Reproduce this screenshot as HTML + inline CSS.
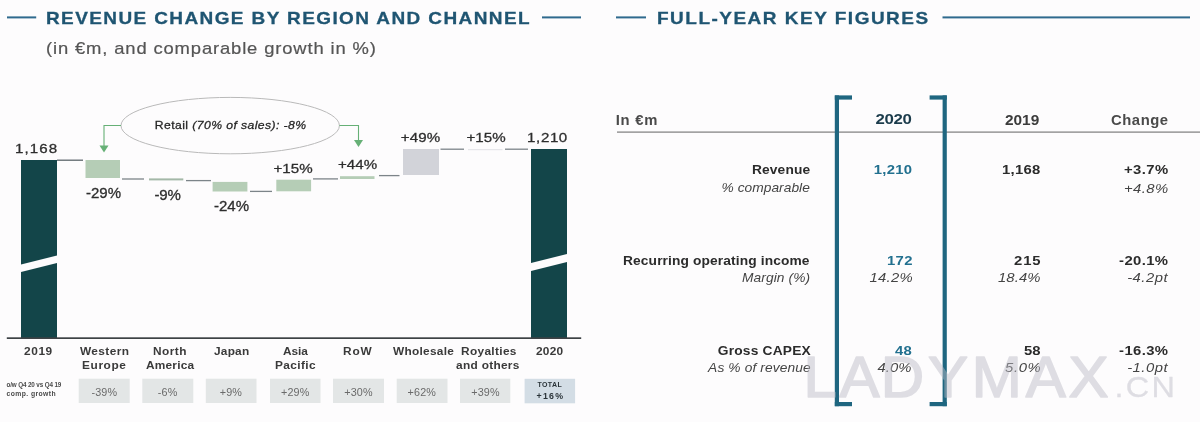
<!DOCTYPE html>
<html lang="en"><head><meta charset="utf-8"><title>Key figures</title>
<style>
html,body{margin:0;padding:0;background:#fdfcfd;}
body{width:1200px;height:422px;overflow:hidden;position:relative;font-family:"Liberation Sans", Arial, sans-serif;}
svg{position:absolute;left:0;top:0;display:block;filter:blur(0.4px);}
svg text{font-family:"Liberation Sans", Arial, sans-serif;white-space:pre;}
</style></head><body>
<svg width="1200" height="422" viewBox="0 0 1200 422">
<g id="shapes">
<!-- title rules -->
<rect x="7" y="16.4" width="29.2" height="2" fill="#2f6a8e"/>
<rect x="542" y="16.4" width="39" height="2" fill="#2f6a8e"/>
<rect x="616" y="16.4" width="30" height="2" fill="#2f6a8e"/>
<rect x="942.5" y="16.4" width="247.5" height="2" fill="#2f6a8e"/>
<!-- dark bars -->
<polygon points="21,160 57,160 57,255.5 21,264.5" fill="#134549"/>
<polygon points="21,272 57,263 57,338 21,338" fill="#134549"/>
<polygon points="531,149 567,149 567,254 531,263" fill="#134549"/>
<polygon points="531,271 567,262 567,338 531,338" fill="#134549"/>
<!-- waterfall bars -->
<rect x="85.5" y="160" width="34.5" height="18" fill="#b5cdb6"/>
<rect x="149" y="178.4" width="34.3" height="2" fill="#a4b8a8"/>
<rect x="212.6" y="181.9" width="34.8" height="9.6" fill="#b5cdb6"/>
<rect x="276.3" y="179.7" width="34.8" height="11.6" fill="#b5cdb6"/>
<rect x="340" y="176.2" width="34.5" height="2.8" fill="#b5cdb6"/>
<rect x="403" y="149" width="36" height="26" fill="#d2d3d9"/>
<rect x="468" y="149" width="34.5" height="1.2" fill="#e6e6ea"/>
<!-- connectors -->
<g stroke="#7c8489" stroke-width="1.3" fill="none">
<line x1="57" y1="160.2" x2="83" y2="160.2" stroke="#5d666b"/>
<line x1="122" y1="179" x2="144" y2="179"/>
<line x1="186" y1="180.6" x2="211" y2="180.6"/>
<line x1="250" y1="191.4" x2="272" y2="191.4"/>
<line x1="313" y1="178.9" x2="338" y2="178.9"/>
<line x1="379" y1="175.6" x2="399.5" y2="175.6"/>
<line x1="440.5" y1="149.2" x2="464" y2="149.2"/>
<line x1="505" y1="149.2" x2="528" y2="149.2"/>
</g>
<!-- axis -->
<rect x="6.8" y="337.3" width="574.4" height="1.7" fill="#3d4245"/>
<!-- ellipse + arrows -->
<ellipse cx="230.2" cy="125.6" rx="109.2" ry="28.2" fill="none" stroke="#b9b9b9" stroke-width="1"/>
<g stroke="#66b076" stroke-width="1.1" fill="none">
<polyline points="121,125.5 104,125.5 104,146"/>
<polyline points="339.4,125.5 358.5,125.5 358.5,141"/>
</g>
<polygon points="99.5,145.5 108.5,145.5 104,152.5" fill="#66b076"/>
<polygon points="354,140 363,140 358.5,147" fill="#66b076"/>
<!-- bottom boxes -->
<g fill="#e3e6e6">
<rect x="78.7" y="378.7" width="51" height="24.3"/>
<rect x="142.3" y="378.7" width="51" height="24.3"/>
<rect x="205.8" y="378.7" width="50.7" height="24.3"/>
<rect x="270" y="378.7" width="50.5" height="24.3"/>
<rect x="333" y="378.7" width="51" height="24.3"/>
<rect x="396.7" y="378.7" width="50.8" height="24.3"/>
<rect x="460" y="378.7" width="50.3" height="24.3"/>
</g>
<rect x="524.6" y="378.8" width="50.5" height="24.5" fill="#d3dde5"/>
<!-- table rule -->
<rect x="617" y="131.5" width="583" height="1.2" fill="#7d7d7d"/>
<!-- brackets -->
<g fill="#1f6680">
<rect x="834.8" y="95.4" width="4.2" height="310.8"/>
<rect x="834.8" y="95.4" width="17.2" height="4.2"/>
<rect x="834.8" y="402" width="17.2" height="4.2"/>
<rect x="942.6" y="95.4" width="4.2" height="310.8"/>
<rect x="929.6" y="95.4" width="17.2" height="4.2"/>
<rect x="929.6" y="402" width="17.2" height="4.2"/>
</g>
</g>
<g id="texts">
<text id="t1" transform="translate(46.00 24.00) scale(1.150 1)" font-size="16.50" font-weight="700" stroke="#1f5572" stroke-width="0.30" letter-spacing="1.231" fill="#1f5572">REVENUE CHANGE BY REGION AND CHANNEL</text>
<text id="t2" transform="translate(46.00 54.00) scale(1.150 1)" font-size="16.00" font-weight="400" stroke="#555" stroke-width="0.20" letter-spacing="0.750" fill="#555">(in €m, and comparable growth in %)</text>
<text id="v0" transform="translate(15.00 153.00) scale(1.120 1)" font-size="13.50" font-weight="400" stroke="#2e2e2e" stroke-width="0.30" letter-spacing="0.975" fill="#2e2e2e">1,168</text>
<text id="v1" transform="translate(86.00 197.70) scale(1.050 1)" font-size="14.30" font-weight="400" stroke="#2e2e2e" stroke-width="0.30" letter-spacing="-0.000" fill="#2e2e2e">-29%</text>
<text id="v2" transform="translate(154.50 200.30) scale(1.050 1)" font-size="14.30" font-weight="400" stroke="#2e2e2e" stroke-width="0.30" letter-spacing="-0.191" fill="#2e2e2e">-9%</text>
<text id="v3" transform="translate(214.00 210.70) scale(1.050 1)" font-size="14.30" font-weight="400" stroke="#2e2e2e" stroke-width="0.30" letter-spacing="0.000" fill="#2e2e2e">-24%</text>
<text id="v4" transform="translate(273.50 172.50) scale(1.120 1)" font-size="13.50" font-weight="400" stroke="#2e2e2e" stroke-width="0.30" letter-spacing="-0.000" fill="#2e2e2e">+15%</text>
<text id="v5" transform="translate(338.00 169.00) scale(1.120 1)" font-size="13.50" font-weight="400" stroke="#2e2e2e" stroke-width="0.30" letter-spacing="0.000" fill="#2e2e2e">+44%</text>
<text id="v6" transform="translate(400.75 142.25) scale(1.120 1)" font-size="13.50" font-weight="400" stroke="#2e2e2e" stroke-width="0.30" letter-spacing="0.116" fill="#2e2e2e">+49%</text>
<text id="v7" transform="translate(466.50 142.25) scale(1.120 1)" font-size="13.50" font-weight="400" stroke="#2e2e2e" stroke-width="0.30" letter-spacing="0.000" fill="#2e2e2e">+15%</text>
<text id="v8" transform="translate(527.10 142.25) scale(1.120 1)" font-size="13.50" font-weight="400" stroke="#2e2e2e" stroke-width="0.30" letter-spacing="0.525" fill="#2e2e2e">1,210</text>
<text id="r1" transform="translate(154.80 128.80) scale(1.060 1)" font-size="11.50" font-weight="400" stroke="#262626" stroke-width="0.28" letter-spacing="0.394" fill="#262626">Retail <tspan font-style="italic">(70% of sales): -8%</tspan></text>
<text id="c0" transform="translate(24.10 354.70) scale(1.080 1)" font-size="11.00" font-weight="700" letter-spacing="0.500" fill="#3a3a3a">2019</text>
<text id="c1a" transform="translate(80.00 354.70) scale(1.080 1)" font-size="11.00" font-weight="700" letter-spacing="0.350" fill="#3a3a3a">Western</text>
<text id="c1b" transform="translate(82.00 369.00) scale(1.080 1)" font-size="11.00" font-weight="700" letter-spacing="0.560" fill="#3a3a3a">Europe</text>
<text id="c2a" transform="translate(153.00 354.70) scale(1.080 1)" font-size="11.00" font-weight="700" letter-spacing="0.425" fill="#3a3a3a">North</text>
<text id="c2b" transform="translate(146.00 369.00) scale(1.080 1)" font-size="11.00" font-weight="700" letter-spacing="0.200" fill="#3a3a3a">America</text>
<text id="c3" transform="translate(214.00 354.70) scale(1.080 1)" font-size="11.00" font-weight="700" letter-spacing="0.200" fill="#3a3a3a">Japan</text>
<text id="c4a" transform="translate(283.00 354.70) scale(1.080 1)" font-size="11.00" font-weight="700" letter-spacing="-0.100" fill="#3a3a3a">Asia</text>
<text id="c4b" transform="translate(275.00 369.00) scale(1.080 1)" font-size="11.00" font-weight="700" letter-spacing="0.350" fill="#3a3a3a">Pacific</text>
<text id="c5" transform="translate(343.00 354.70) scale(1.080 1)" font-size="11.00" font-weight="700" letter-spacing="0.825" fill="#3a3a3a">RoW</text>
<text id="c6" transform="translate(393.00 354.70) scale(1.080 1)" font-size="11.00" font-weight="700" letter-spacing="0.254" fill="#3a3a3a">Wholesale</text>
<text id="c7a" transform="translate(461.00 354.70) scale(1.080 1)" font-size="11.00" font-weight="700" letter-spacing="0.312" fill="#3a3a3a">Royalties</text>
<text id="c7b" transform="translate(456.10 369.00) scale(1.080 1)" font-size="11.00" font-weight="700" letter-spacing="0.263" fill="#3a3a3a">and others</text>
<text id="c8" transform="translate(536.00 354.70) scale(1.080 1)" font-size="11.00" font-weight="700" letter-spacing="0.200" fill="#3a3a3a">2020</text>
<text id="q1" transform="translate(6.50 386.90) scale(1.000 1)" font-size="6.30" font-weight="700" letter-spacing="-0.134" fill="#4a4a4a">o/w Q4 20 vs Q4 19</text>
<text id="q2" transform="translate(6.50 395.80) scale(1.050 1)" font-size="6.50" font-weight="700" letter-spacing="0.386" fill="#4a4a4a">comp. growth</text>
<text id="b0" transform="translate(91.40 396.00) scale(1.080 1)" font-size="10.00" font-weight="400" letter-spacing="0.150" fill="#6a6a6a">-39%</text>
<text id="b1" transform="translate(157.75 396.00) scale(1.080 1)" font-size="10.00" font-weight="400" letter-spacing="0.150" fill="#6a6a6a">-6%</text>
<text id="b2" transform="translate(219.75 396.00) scale(1.080 1)" font-size="10.00" font-weight="400" letter-spacing="0.150" fill="#6a6a6a">+9%</text>
<text id="b3" transform="translate(281.00 396.00) scale(1.080 1)" font-size="10.00" font-weight="400" letter-spacing="0.150" fill="#6a6a6a">+29%</text>
<text id="b4" transform="translate(344.25 396.00) scale(1.080 1)" font-size="10.00" font-weight="400" letter-spacing="0.150" fill="#6a6a6a">+30%</text>
<text id="b5" transform="translate(407.55 396.00) scale(1.080 1)" font-size="10.00" font-weight="400" letter-spacing="0.150" fill="#6a6a6a">+62%</text>
<text id="b6" transform="translate(471.20 396.00) scale(1.080 1)" font-size="10.00" font-weight="400" letter-spacing="0.150" fill="#6a6a6a">+39%</text>
<text id="b7a" transform="translate(537.50 387.20) scale(1.000 1)" font-size="7.00" font-weight="700" letter-spacing="0.380" fill="#2a3338">TOTAL</text>
<text id="b7b" transform="translate(536.50 399.00) scale(1.050 1)" font-size="8.40" font-weight="700" letter-spacing="1.198" fill="#2a3338">+16%</text>
<text id="t3" transform="translate(657.00 24.00) scale(1.150 1)" font-size="16.50" font-weight="700" stroke="#1f5572" stroke-width="0.30" letter-spacing="1.315" fill="#1f5572">FULL-YEAR KEY FIGURES</text>
<text id="h0" transform="translate(615.80 124.80) scale(1.060 1)" font-size="14.00" font-weight="700" letter-spacing="0.666" fill="#4a4a4a">In €m</text>
<text id="h1" transform="translate(875.40 123.80) scale(1.100 1)" font-size="15.30" font-weight="700" letter-spacing="-0.272" fill="#1c3c4c">2020</text>
<text id="h2" transform="translate(1005.00 124.80) scale(1.100 1)" font-size="14.00" font-weight="700" letter-spacing="0.000" fill="#3c3c3c">2019</text>
<text id="h3" transform="translate(1111.00 124.60) scale(1.060 1)" font-size="14.00" font-weight="700" letter-spacing="0.520" fill="#4a4a4a">Change</text>
<text id="a1" transform="translate(752.00 174.40) scale(1.060 1)" font-size="13.00" font-weight="700" letter-spacing="0.120" fill="#2b2b2b">Revenue</text>
<text id="a2" transform="translate(721.50 191.50) scale(1.060 1)" font-size="13.00" font-weight="400" font-style="italic" letter-spacing="0.034" fill="#444">% comparable</text>
<text id="a3" transform="translate(873.80 174.40) scale(1.100 1)" font-size="13.50" font-weight="700" letter-spacing="0.218" fill="#22708f">1,210</text>
<text id="a4" transform="translate(1002.00 174.40) scale(1.100 1)" font-size="13.50" font-weight="700" letter-spacing="0.275" fill="#2b2b2b">1,168</text>
<text id="a5" transform="translate(1124.00 174.40) scale(1.100 1)" font-size="13.50" font-weight="700" letter-spacing="0.397" fill="#2b2b2b">+3.7%</text>
<text id="a6" transform="translate(1124.00 192.50) scale(1.100 1)" font-size="13.50" font-weight="400" font-style="italic" letter-spacing="0.397" fill="#444">+4.8%</text>
<text id="d1" transform="translate(623.00 265.00) scale(1.060 1)" font-size="13.00" font-weight="700" letter-spacing="0.114" fill="#2b2b2b">Recurring operating income</text>
<text id="d2" transform="translate(742.00 281.50) scale(1.060 1)" font-size="13.00" font-weight="400" font-style="italic" letter-spacing="0.083" fill="#444">Margin (%)</text>
<text id="d3" transform="translate(887.00 265.00) scale(1.100 1)" font-size="13.50" font-weight="700" letter-spacing="0.325" fill="#22708f">172</text>
<text id="d4" transform="translate(869.40 281.50) scale(1.100 1)" font-size="13.50" font-weight="400" font-style="italic" letter-spacing="0.280" fill="#444">14.2%</text>
<text id="d5" transform="translate(1014.10 265.00) scale(1.100 1)" font-size="13.50" font-weight="700" letter-spacing="0.783" fill="#2b2b2b">215</text>
<text id="d6" transform="translate(998.00 281.50) scale(1.100 1)" font-size="13.50" font-weight="400" font-style="italic" letter-spacing="0.075" fill="#444">18.4%</text>
<text id="d7" transform="translate(1119.10 265.00) scale(1.100 1)" font-size="13.50" font-weight="700" letter-spacing="0.339" fill="#2b2b2b">-20.1%</text>
<text id="d8" transform="translate(1127.20 281.50) scale(1.100 1)" font-size="13.50" font-weight="400" font-style="italic" letter-spacing="0.434" fill="#444">-4.2pt</text>
<text id="e1" transform="translate(717.75 355.40) scale(1.060 1)" font-size="13.00" font-weight="700" letter-spacing="0.183" fill="#2b2b2b">Gross CAPEX</text>
<text id="e2" transform="translate(708.10 372.30) scale(1.060 1)" font-size="13.00" font-weight="400" font-style="italic" letter-spacing="0.112" fill="#444">As % of revenue</text>
<text id="e3" transform="translate(895.00 355.40) scale(1.100 1)" font-size="13.50" font-weight="700" letter-spacing="0.153" fill="#22708f">48</text>
<text id="e4" transform="translate(877.50 372.30) scale(1.100 1)" font-size="13.50" font-weight="400" font-style="italic" letter-spacing="-0.000" fill="#444">4.0%</text>
<text id="e5" transform="translate(1024.00 355.40) scale(1.100 1)" font-size="13.50" font-weight="700" letter-spacing="-0.074" fill="#2b2b2b">58</text>
<text id="e6" transform="translate(1005.00 372.30) scale(1.100 1)" font-size="13.50" font-weight="400" font-style="italic" letter-spacing="0.600" fill="#444">5.0%</text>
<text id="e7" transform="translate(1119.10 355.40) scale(1.100 1)" font-size="13.50" font-weight="700" letter-spacing="0.339" fill="#2b2b2b">-16.3%</text>
<text id="e8" transform="translate(1127.20 372.30) scale(1.100 1)" font-size="13.50" font-weight="400" font-style="italic" letter-spacing="0.434" fill="#444">-1.0pt</text>
</g>
<g id="wm" opacity="0.47" fill="#bcbcc6" stroke="#bcbcc6" stroke-linejoin="round">
<text id="w1" transform="scale(1.045 1)" x="768.92 803.35 842.82 888.13 930.00 981.53 1022.49" y="397.0" font-size="57.50" font-weight="400" stroke-width="1.60">LADYMAX</text>
<text id="w2" transform="translate(1114.5 397) scale(1.12 1)" font-size="29" font-weight="400" letter-spacing="2.0" stroke-width="0.3">.CN</text>
</g>
</svg>
</body></html>
